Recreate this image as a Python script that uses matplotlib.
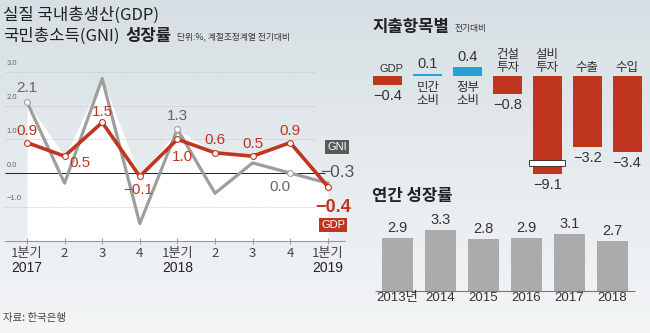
import numpy as np
import matplotlib
matplotlib.use('Agg')
import matplotlib.pyplot as plt
from matplotlib import font_manager
from matplotlib.colors import LinearSegmentedColormap
from matplotlib.patches import Rectangle

# 데이터
quarters = ['1분기', '2', '3', '4', '1분기', '2', '3', '4', '1분기']
years = {0: '2017', 4: '2018', 8: '2019'}
gdp = [0.9, 0.5, 1.5, -0.1, 1.0, 0.6, 0.5, 0.9, -0.4]
gni = [2.1, -0.3, 2.8, -1.5, 1.3, -0.6, 0.3, 0.0, -0.3]
gni_shown = [0, 4, 7, 8]

items = ['GDP', '민간\n소비', '정부\n소비', '건설\n투자', '설비\n투자', '수출', '수입']
item_vals = [-0.4, 0.1, 0.4, -0.8, -9.1, -3.2, -3.4]

ann_years = ['2013년', '2014', '2015', '2016', '2017', '2018']
ann_vals = [2.9, 3.3, 2.8, 2.9, 3.1, 2.7]

# 폰트
names = {f.name for f in font_manager.fontManager.ttflist}
KR = 'Noto Sans CJK KR'
NUM = 'Liberation Sans Narrow' if 'Liberation Sans Narrow' in names else 'Liberation Sans'
plt.rcParams['font.family'] = [KR, 'DejaVu Sans']
numf = [NUM, 'DejaVu Sans']

RED = '#c0351f'
GRAY = '#9e9e9e'
BLUE = '#2a9fd2'
DARK = '#333333'

def fmt(v):
    return f'{v:.1f}'.replace('-', '\u2212')

W, H = 650, 333
fig = plt.figure(figsize=(W / 100, H / 100), dpi=100)

# 배경 그라데이션
bg = fig.add_axes([0, 0, 1, 1], zorder=-10)
cmap = LinearSegmentedColormap.from_list('bg', ['#d6dfe4', '#e6ebee', '#f3f5f6'])
bg.imshow(np.linspace(0, 1, 256).reshape(-1, 1), aspect='auto', cmap=cmap,
          extent=[0, 1, 0, 1])
bg.axis('off')

def px_axes(x0, y0, x1, y1):
    a = fig.add_axes([x0 / W, 1 - y1 / H, (x1 - x0) / W, (y1 - y0) / H])
    a.patch.set_alpha(0)
    return a

# 제목
fig.text(3 / W, 1 - 15 / H, '실질 국내총생산(GDP)', fontsize=12, color='#222', va='center')
fig.text(3 / W, 1 - 36 / H, '국민총소득(GNI)', fontsize=12, color='#222', va='center')
fig.text(125 / W, 1 - 36 / H, '성장률', fontsize=12, color='#222', va='center', fontweight='bold')
fig.text(177 / W, 1 - 37 / H, '단위:%, 계절조정계열 전기대비', fontsize=6.3, color='#333', va='center')
fig.text(3 / W, 1 - 318 / H, '자료: 한국은행', fontsize=7.5, color='#444', va='center')

# ---- 왼쪽 꺾은선 ----
ax = px_axes(5, 60, 345, 240.5)
x = np.arange(len(gdp))
ax.set_xlim(-0.585, 8.457)
ax.set_ylim(-2.0, 3.35)
env = np.maximum(gdp, gni)
ax.fill_between(x, -2.0, env, color='white', zorder=0, lw=0)
for v in [3, 2, 1, -1]:
    ax.hlines(v, -0.585, 7.66, color='#bbbbbb', lw=0.6, ls=(0, (1, 1.5)), zorder=1)
    ax.text(-0.55, v + 0.13, f'{v:.1f}'.replace('-', '\u2212'), fontsize=5.5,
            color='#666', family=numf, va='bottom')
ax.hlines(0, -0.585, 7.93, color='#222', lw=0.7, zorder=1)
ax.text(-0.55, 0.13, '0.0', fontsize=5.5, color='#666', family=numf, va='bottom')

ax.plot(x, gni, color=GRAY, lw=2.3, zorder=2)
ax.plot(x[gni_shown[:3]], np.array(gni)[gni_shown[:3]], 'o', ms=4.2, mfc='white',
        mec=GRAY, mew=0.8, zorder=3)
ax.plot(x, gdp, color=RED, lw=2.6, zorder=4)
ax.plot(x, gdp, 'o', ms=4.2, mfc='white', mec=RED, mew=0.8, zorder=5)

gdp_off = [(0, 12), (15, -7), (0, 10), (-2, -14), (5, -18), (0, 13), (0, 12), (0, 12), (5, -21)]
for i, v in enumerate(gdp):
    last = i == len(gdp) - 1
    ax.annotate(fmt(v), (i, v), xytext=gdp_off[i], textcoords='offset pixels',
                ha='center', va='center', color=RED, family=numf,
                fontsize=13 if last else 11, fontweight='bold' if last else 'normal',
                zorder=6, annotation_clip=False)
gni_off = {0: (0, 14), 4: (0, 13), 7: (-10, -14), 8: (9, 11)}
for i in gni_shown:
    last = i == len(gni) - 1
    ax.annotate(fmt(gni[i]), (i, gni[i]), xytext=gni_off[i], textcoords='offset pixels',
                ha='center', va='center', color='#555' if last else '#666', family=numf,
                fontsize=12.5 if last else 11, zorder=6, annotation_clip=False)
ax.text(8.24, 0.77, 'GNI', color='white', fontsize=8, family=numf, ha='center', va='center',
        bbox=dict(boxstyle='square,pad=0.2', fc='#5a5a5a', ec='none'), clip_on=False)
ax.text(8.14, -1.54, 'GDP', color='white', fontsize=8, family=numf, ha='center', va='center',
        bbox=dict(boxstyle='square,pad=0.2', fc=RED, ec='none'), clip_on=False)

for s in ['top', 'right', 'left']:
    ax.spines[s].set_visible(False)
ax.spines['bottom'].set_color('#999')
ax.spines['bottom'].set_linewidth(0.8)
ax.set_yticks([])
ax.set_xticks(x)
ax.set_xticklabels(quarters, fontsize=9.5, color='#444')
ax.tick_params(axis='x', direction='inout', length=5, width=0.7, color='#999', pad=2)
for i, yr in years.items():
    ax.text(i, -2.82, yr, ha='center', va='center', fontsize=10, color='#222',
            family=numf, clip_on=False)

# ---- 지출항목별 ----
fig.text(372 / W, 1 - 27 / H, '지출항목별', fontsize=12, fontweight='bold', color='#222', va='center')
fig.text(455 / W, 1 - 28 / H, '전기대비', fontsize=6.3, color='#333', va='center')
ax2 = px_axes(365, 40, 650, 185)
xi = np.arange(len(items))
ax2.set_xlim(-0.575, 6.575)
ax2.set_ylim(-4.89, 1.61)
shown = np.maximum(item_vals, -4.4)
cols = [BLUE if v > 0 else RED for v in item_vals]
ax2.bar(xi, shown, width=0.725, color=cols, zorder=2)
k = int(np.argmin(item_vals))
ax2.add_patch(Rectangle((k - 0.45, -4.05), 0.9, 0.27, fc='white', ec='#222', lw=0.6, zorder=3))
for i, (lab, v, s) in enumerate(zip(items, item_vals, shown)):
    if v < 0:
        ax2.annotate(lab, (i, 0), xytext=(4 if lab == 'GDP' else 0, 2), textcoords='offset pixels',
                     ha='center', va='bottom', fontsize=8 if lab == 'GDP' else 9, color=DARK,
                     linespacing=1.0, family=numf if lab == 'GDP' else None)
        ax2.annotate(fmt(v), (i, s), xytext=(0, -4), textcoords='offset pixels', ha='center',
                     va='top', fontsize=10.5, color=DARK, family=numf, annotation_clip=False)
    else:
        ax2.annotate(lab, (i, 0), xytext=(0, -5), textcoords='offset pixels', ha='center',
                     va='top', fontsize=9, color=DARK, linespacing=1.0)
        ax2.annotate(fmt(v), (i, s), xytext=(0, 3), textcoords='offset pixels', ha='center',
                     va='bottom', fontsize=10.5, color=DARK, family=numf)
ax2.axis('off')

# ---- 연간 성장률 ----
fig.text(372 / W, 1 - 196 / H, '연간 성장률', fontsize=12, fontweight='bold', color='#222', va='center')
ax3 = px_axes(365, 205, 650, 310)
xa = np.arange(len(ann_vals))
ax3.set_xlim(-0.756, 5.87)
ax3.set_ylim(-1.03, 4.67)
ax3.bar(xa, ann_vals, width=0.72, color='#ababab', zorder=2)
ax3.hlines(0, -0.52, 5.52, color='#777', lw=0.8, zorder=3)
for i, v in enumerate(ann_vals):
    ax3.annotate(fmt(v), (i, v), xytext=(0, 3), textcoords='offset pixels', ha='center',
                 va='bottom', fontsize=10.5, color=DARK, family=numf)
    ax3.text(i, -0.4, ann_years[i], ha='center', va='center', fontsize=9.5, color=DARK,
             family=numf if i else [NUM, KR])
ax3.axis('off')

fig.savefig('out.png', dpi=100)
